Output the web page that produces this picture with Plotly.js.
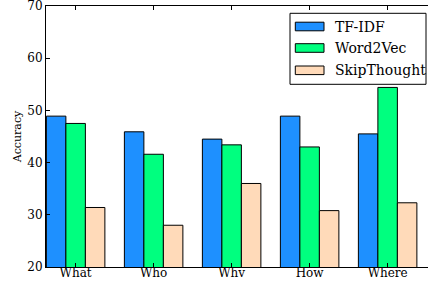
<!DOCTYPE html>
<html>
<head>
<meta charset="utf-8">
<script src="https://cdn.plot.ly/plotly-3.0.1.min.js"></script>
<style>html,body{margin:0;padding:0;background:#fff;}#chart{width:428px;height:281px;}</style>
</head>
<body>
<div id="chart"></div>
<script>
var categories = ["What", "Who", "Whv", "How", "Where"];
var seriesNames = ["TF-IDF", "Word2Vec", "SkipThought"];
var tfidf = [48.9, 45.9, 44.5, 48.9, 45.5];
var word2vec = [47.5, 41.6, 43.4, 43.0, 54.4];
var skipthought = [31.4, 28.0, 36.0, 30.8, 32.3];
var colors = ["#1E90FF", "#00FF7F", "#FFDAB9"];
var yTicks = [20, 30, 40, 50, 60, 70];

var W = 428, H = 281, L = 46, T = 6, B = 14, R = 0;
var pw = W - L - R, ph = H - T - B;
function px(x) { return (x - L) / pw; }
function py(y) { return (H - B - y) / ph; }

var seriesVals = [tfidf, word2vec, skipthought];
var traces = seriesVals.map(function (vals, i) {
  return {
    type: "bar",
    name: seriesNames[i],
    x: categories.map(function (c, j) { return j; }),
    y: vals,
    marker: { color: colors[i], line: { color: "#000", width: 1 } },
    showlegend: false,
    hoverinfo: "none"
  };
});

var font = "DejaVu Serif, serif";
var shapes = [
  { type: "rect", xref: "paper", yref: "paper", x0: px(290), x1: px(426), y0: py(84.3), y1: py(13.3),
    line: { color: "#000", width: 1 }, fillcolor: "#fff", layer: "above" }
];
var annotations = [];
var centers = [26.5, 48, 70.3];
seriesNames.forEach(function (n, i) {
  shapes.push({ type: "rect", xref: "paper", yref: "paper", x0: px(295.3), x1: px(324),
    y0: py(centers[i] + 4.3), y1: py(centers[i] - 4.3),
    line: { color: "#000", width: 1 }, fillcolor: colors[i], layer: "above" });
  annotations.push({ xref: "paper", yref: "paper", x: px(333), y: py(centers[i]), xanchor: "left", yanchor: "middle",
    text: n, showarrow: false, font: { family: font, size: 14, color: "#000" } });
});

var layout = {
  width: W, height: H,
  margin: { l: L, r: R, t: T, b: B, pad: 0 },
  paper_bgcolor: "#fff", plot_bgcolor: "#fff",
  barmode: "group", bargap: 0.25, bargroupgap: 0,
  xaxis: {
    range: [-0.38, -0.38 + pw / 78], tickmode: "array",
    tickvals: categories.map(function (c, j) { return j; }), ticktext: categories,
    ticks: "inside", ticklen: 4, tickcolor: "#000", tickwidth: 1,
    showline: true, linecolor: "#000", linewidth: 1, mirror: "ticks",
    showgrid: false, zeroline: false, ticklabeloverflow: "allow",
    ticklabelstandoff: -5,
    tickfont: { family: font, size: 12, color: "#000" }
  },
  yaxis: {
    range: [20, 70], tickmode: "array", tickvals: yTicks,
    ticks: "inside", ticklen: 4, tickcolor: "#000", tickwidth: 1,
    showline: true, linecolor: "#000", linewidth: 1, mirror: false,
    showgrid: false, zeroline: false, ticklabeloverflow: "allow",
    tickfont: { family: font, size: 12, color: "#000" },
    title: { text: "Accuracy", font: { family: font, size: 11, color: "#000" }, standoff: 3 }
  },
  shapes: shapes,
  annotations: annotations
};

Plotly.newPlot("chart", traces, layout, { staticPlot: true, displayModeBar: false });
</script>
</body>
</html>
